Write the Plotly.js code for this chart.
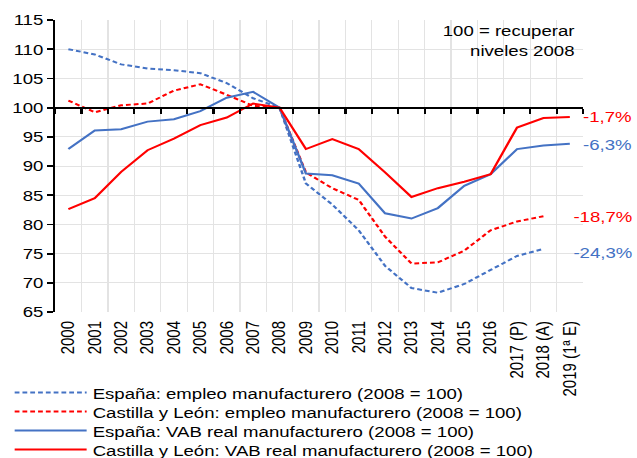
<!DOCTYPE html>
<html>
<head>
<meta charset="utf-8">
<script src="https://cdn.plot.ly/plotly-3.0.1.min.js"></script>
<style>
html,body{margin:0;padding:0;background:#fff;}
#wrap{width:637px;height:458px;overflow:hidden;position:relative;}
#chart{width:531px;height:458px;transform:scaleX(1.19962);transform-origin:0 0;}
</style>
</head>
<body>
<div id="wrap"><div id="chart"></div></div>
<script>
const years = ["2000","2001","2002","2003","2004","2005","2006","2007","2008","2009","2010","2011","2012","2013","2014","2015","2016","2017 (P)","2018 (A)","2019 (1ª E)"];
const espEmpleo = [110.0,109.1,107.4,106.7,106.4,105.9,104.2,101.6,100.0,87.0,83.4,79.0,72.9,69.1,68.3,69.8,72.2,74.6,75.8,null];
const cylEmpleo = [101.2,99.2,100.4,100.7,102.9,104.0,102.2,100.3,100.0,88.9,86.2,84.2,77.9,73.3,73.5,75.5,79.0,80.5,81.4,null];
const espVAB = [92.9,96.1,96.3,97.6,98.0,99.4,101.7,102.7,100.0,88.7,88.4,87.0,81.9,81.0,82.8,86.6,88.6,92.9,93.5,93.8];
const cylVAB = [82.6,84.5,89.0,92.7,94.7,97.0,98.3,100.7,100.0,92.9,94.6,92.9,88.9,84.7,86.2,87.3,88.6,96.6,98.2,98.4];
const seriesNames = ["España: empleo manufacturero (2008 = 100)","Castilla y León: empleo manufacturero (2008 = 100)","España: VAB real manufacturero (2008 = 100)","Castilla y León: VAB real manufacturero (2008 = 100)"];
const endLabels = ["-1,7%","-6,3%","-18,7%","-24,3%"];
const endLabelY = [98.4,93.7,81.3,75.2];
const noteText = "100 = recuperar<br>niveles 2008";

const BLUE = "#4472C4", RED = "#FF0000";
const FONT = "Liberation Sans, Arial, sans-serif";
const DASH = "4px,2.5px";

const traces = [
  {x: years, y: espEmpleo, name: seriesNames[0], mode: "lines", legend: "legend", line: {color: BLUE, width: 2, dash: DASH}},
  {x: years, y: cylEmpleo, name: seriesNames[1], mode: "lines", legend: "legend2", line: {color: RED, width: 2, dash: DASH}},
  {x: years, y: espVAB, name: seriesNames[2], mode: "lines", legend: "legend3", line: {color: BLUE, width: 2}},
  {x: years, y: cylVAB, name: seriesNames[3], mode: "lines", legend: "legend4", xaxis: "x2", line: {color: RED, width: 2}}
];

const endColors = [RED, BLUE, RED, BLUE];
const annotations = endLabels.map((t, i) => ({
  text: t, xref: "paper", yref: "y", x: 1.098, y: endLabelY[i], xanchor: "right", yanchor: "middle",
  showarrow: false, font: {family: FONT, size: 15.5, color: endColors[i]}
}));
annotations.push({
  text: noteText, xref: "paper", yref: "paper", x: 0.9886, y: 1.0, xanchor: "right", yanchor: "top",
  align: "right", showarrow: false, font: {family: FONT, size: 15.5, color: "#000"}
});

function legendAt(rowY) {
  return {xref: "container", yref: "container", x: 0.0136, y: 1 - rowY / 458,
          xanchor: "left", yanchor: "middle", orientation: "v",
          font: {family: FONT, size: 15.5, color: "#000"}, itemwidth: 60,
          bgcolor: "rgba(0,0,0,0)", borderwidth: 0};
}

const layout = {
  width: 531, height: 458,
  margin: {l: 46, r: 45, t: 20, b: 146, autoexpand: false},
  paper_bgcolor: "#fff", plot_bgcolor: "#fff",
  font: {family: FONT, size: 15.5, color: "#000"},
  showlegend: true,
  legend: legendAt(393),
  legend2: legendAt(412),
  legend3: legendAt(431),
  legend4: legendAt(450),
  xaxis: {type: "category", range: [-0.5, 19.5], tickangle: -90, showline: false, ticks: "", tickson: "boundaries",
          ticklabelstandoff: 5,
          showgrid: true, gridcolor: "#e3e3e3", gridwidth: 1, zeroline: false,
          tickfont: {family: FONT, size: 15}},
  xaxis2: {type: "category", overlaying: "x", anchor: "free", position: 0.7, side: "bottom",
           range: [-0.5, 19.5], tickson: "boundaries", ticks: "outside", ticklen: 5, tickwidth: 1.8,
           tickcolor: "#000", showline: true, linecolor: "#000", linewidth: 2,
           showticklabels: false, showgrid: false, zeroline: false},
  yaxis: {range: [65, 115], dtick: 5, showline: true, linecolor: "#000", linewidth: 1.8,
          ticks: "outside", ticklen: 5, tickwidth: 1.8, tickcolor: "#000",
          showgrid: true, gridcolor: "#e3e3e3", gridwidth: 1, zeroline: false,
          tickfont: {family: FONT, size: 15.5}},
  annotations: annotations
};

Plotly.newPlot("chart", traces, layout, {displayModeBar: false, staticPlot: true});
</script>
</body>
</html>
